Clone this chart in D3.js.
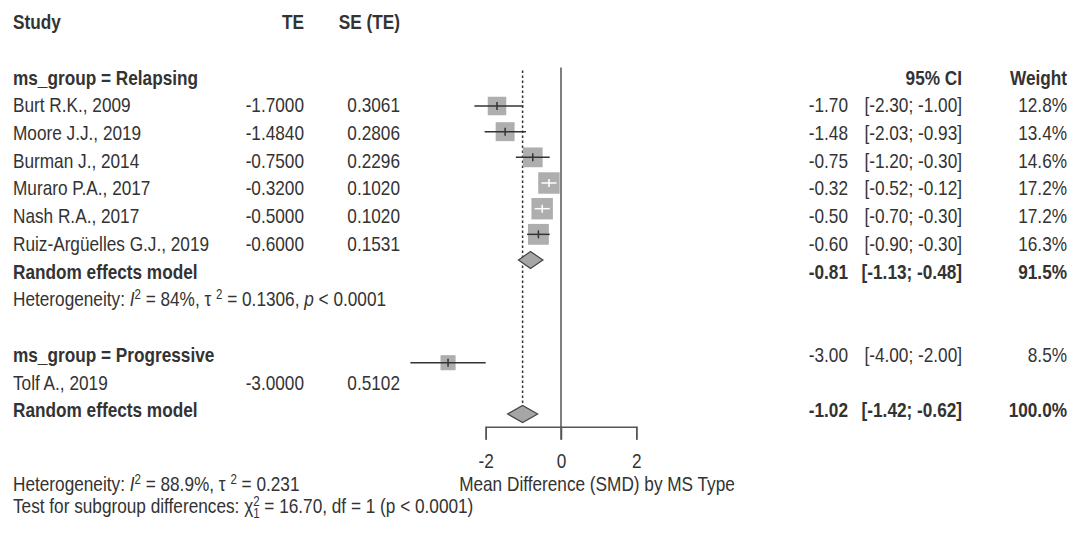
<!DOCTYPE html>
<html>
<head>
<meta charset="utf-8">
<script src="https://cdn.jsdelivr.net/npm/d3@7"></script>
<style>
  body { margin: 0; background: #fff; }
  svg text { font-family: "Liberation Sans", Arial, sans-serif; fill: #333; }
</style>
</head>
<body>
<div id="chart"></div>
<script>
// study level data
const studies = ["Burt R.K., 2009", "Moore J.J., 2019", "Burman J., 2014", "Muraro P.A., 2017",
  "Nash R.A., 2017", "Ruiz-Argüelles G.J., 2019", "Tolf A., 2019"];
const groupOf = ["Relapsing", "Relapsing", "Relapsing", "Relapsing", "Relapsing", "Relapsing", "Progressive"];
const te = [-1.7, -1.484, -0.75, -0.32, -0.5, -0.6, -3.0];
const seTE = [0.3061, 0.2806, 0.2296, 0.1020, 0.1020, 0.1531, 0.5102];
const ciLow = [-2.30, -2.03, -1.20, -0.52, -0.70, -0.90, -4.00];
const ciHigh = [-1.00, -0.93, -0.30, -0.12, -0.30, -0.30, -2.00];
const weight = [12.8, 13.4, 14.6, 17.2, 17.2, 16.3, 8.5];

// pooled estimates (subgroup relapsing, overall)
const pooledName = ["Relapsing", "Overall"];
const pooledEst = [-0.81, -1.02];
const pooledLow = [-1.13, -1.42];
const pooledHigh = [-0.48, -0.62];
const pooledWeight = [91.5, 100.0];

const groups = ["Relapsing", "Progressive"];
const xTicks = [-2, 0, 2];
const xLabel = "Mean Difference (SMD) by MS Type";

const width = 1074, height = 534;
const fs = 21;
const squeeze = 0.82; // no narrow face installed, so compress horizontally

const svg = d3.select("#chart").append("svg")
  .attr("width", width)
  .attr("height", height);

// rows of the text table and rows of the plot column
const yText = d3.scaleLinear().domain([2, 13]).range([77, 382]);
const yPlot = d3.scaleLinear().domain([3, 13]).range([106, 362.7]);
const x = d3.scaleLinear().domain([-2, 2]).range([485.7, 636.3]);
const boxSide = d3.scaleSqrt().domain([0, 100]).range([0, 51.7]);

const textRow = [3, 4, 5, 6, 7, 8, 13];
const rightRow = [3, 4, 5, 6, 7, 8, 12];
const plotRow = [3, 4, 5, 6, 7, 8, 13];
const pooledTextRow = [9, 14];
const pooledPlotRow = [9, 15];

const col = { study: 13, te: 304, se: 400, est: 848, ci: 962, w: 1067 };
const fmt4 = d3.format(".4f"), fmt2 = d3.format(".2f"), fmt1 = d3.format(".1f");
const minus = s => s.replace("−", "-");

function txt(xp, yp, s, anchor, bold) {
  return svg.append("text")
    .attr("transform", `translate(${xp},${yp}) scale(${squeeze},1)`)
    .attr("dy", "0.36em")
    .attr("text-anchor", anchor || "start")
    .style("font-size", fs + "px")
    .style("font-weight", bold ? "bold" : "normal")
    .text(s);
}

// header
txt(col.study, yText(0), "Study", "start", true);
txt(col.te, yText(0), "TE", "end", true);
txt(col.se, yText(0), "SE (TE)", "end", true);
txt(col.ci, yText(2), "95% CI", "end", true);
txt(col.w, yText(2), "Weight", "end", true);

// group labels
txt(col.study, yText(2), "ms_group = " + groups[0], "start", true);
txt(col.study, yText(12), "ms_group = " + groups[1], "start", true);

// study rows
studies.forEach((s, i) => {
  txt(col.study, yText(textRow[i]), s);
  txt(col.te, yText(textRow[i]), minus(fmt4(te[i])), "end");
  txt(col.se, yText(textRow[i]), fmt4(seTE[i]), "end");
  txt(col.est, yText(rightRow[i]), minus(fmt2(te[i])), "end");
  txt(col.ci, yText(rightRow[i]), "[" + minus(fmt2(ciLow[i])) + "; " + minus(fmt2(ciHigh[i])) + "]", "end");
  txt(col.w, yText(rightRow[i]), fmt1(weight[i]) + "%", "end");
});

// pooled rows
pooledName.forEach((p, i) => {
  const r = pooledTextRow[i];
  txt(col.study, yText(r), "Random effects model", "start", true);
  txt(col.est, yText(r), minus(fmt2(pooledEst[i])), "end", true);
  txt(col.ci, yText(r), "[" + minus(fmt2(pooledLow[i])) + "; " + minus(fmt2(pooledHigh[i])) + "]", "end", true);
  txt(col.w, yText(r), fmt1(pooledWeight[i]) + "%", "end", true);
});

// heterogeneity lines
function hetLine(xp, yp, i2, tau2, pval) {
  const t = txt(xp, yp, "Heterogeneity: ");
  t.append("tspan").style("font-style", "italic").text("I");
  t.append("tspan").attr("dy", -7).style("font-size", "14px").text("2");
  t.append("tspan").attr("dy", 7).text(" = " + i2 + ", τ ");
  t.append("tspan").attr("dy", -7).style("font-size", "14px").text("2");
  t.append("tspan").attr("dy", 7).text(" = " + tau2 + (pval ? ", " : ""));
  if (pval) {
    t.append("tspan").style("font-style", "italic").text("p");
    t.append("tspan").text(" < " + pval);
  }
}
hetLine(col.study, yText(10), "84%", "0.1306", "0.0001");
hetLine(col.study, 483, "88.9%", "0.231", null);

const test = txt(col.study, 505, "Test for subgroup differences: χ");
test.append("tspan").attr("dy", 5).style("font-size", "14px").text("1");
test.append("tspan").attr("dx", -7.8).attr("dy", -12).style("font-size", "14px").text("2");
test.append("tspan").attr("dy", 7).text(" = 16.70, df = 1 (p < 0.0001)");

// plot column
const g = svg.append("g");
const axisY = 426.7, tickLen = 13;

// reference line at zero
g.append("line")
  .attr("x1", x(0)).attr("x2", x(0))
  .attr("y1", yPlot(1.5)).attr("y2", axisY + tickLen)
  .attr("stroke", "#555").attr("stroke-width", 1.5);

// dotted line at overall estimate
g.append("line")
  .attr("x1", x(pooledEst[1])).attr("x2", x(pooledEst[1]))
  .attr("y1", yPlot(1.62)).attr("y2", yPlot(pooledPlotRow[1]) - 8.5)
  .attr("stroke", "#333").attr("stroke-width", 1.5)
  .attr("stroke-dasharray", "2.5,2.5");

// studies: boxes + CI
studies.forEach((s, i) => {
  const cy = yPlot(plotRow[i]);
  const side = boxSide(weight[i]);
  const inside = (x(ciHigh[i]) - x(ciLow[i])) < side;
  g.append("rect")
    .attr("x", x(te[i]) - side / 2).attr("y", cy - side / 2)
    .attr("width", side).attr("height", side)
    .attr("fill", "#aeaeae");
  const lc = inside ? "#ffffff" : "#333";
  g.append("line")
    .attr("x1", x(ciLow[i])).attr("x2", x(ciHigh[i]))
    .attr("y1", cy).attr("y2", cy)
    .attr("stroke", lc).attr("stroke-width", 1.5);
  g.append("line")
    .attr("x1", x(te[i])).attr("x2", x(te[i]))
    .attr("y1", cy - 4).attr("y2", cy + 4)
    .attr("stroke", lc).attr("stroke-width", 1.5);
});

// diamonds
pooledName.forEach((p, i) => {
  const cy = yPlot(pooledPlotRow[i]);
  const h = 8.5;
  g.append("path")
    .attr("d", `M${x(pooledLow[i])},${cy} L${x(pooledEst[i])},${cy - h} L${x(pooledHigh[i])},${cy} L${x(pooledEst[i])},${cy + h} Z`)
    .attr("fill", "#a6a6a6").attr("stroke", "#444").attr("stroke-width", 1.2);
});

// x axis
const ax = g.append("g")
  .attr("transform", `translate(0,${axisY})`)
  .call(d3.axisBottom(x).tickValues(xTicks).tickSize(tickLen).tickFormat(d => d3.format("d")(d).replace("−", "-")));
ax.select(".domain").attr("stroke", "#555").attr("stroke-width", 1.5);
ax.selectAll(".tick line").attr("stroke", "#555").attr("stroke-width", 1.5);
ax.selectAll(".tick text")
  .attr("y", 0).attr("dy", "0.36em")
  .attr("transform", `translate(0,${460 - axisY}) scale(${squeeze},1)`)
  .style("font-size", fs + "px")
  .style("font-family", "'Liberation Sans', Arial, sans-serif")
  .attr("fill", "#333");

txt(597, 483, xLabel, "middle");
</script>
</body>
</html>
